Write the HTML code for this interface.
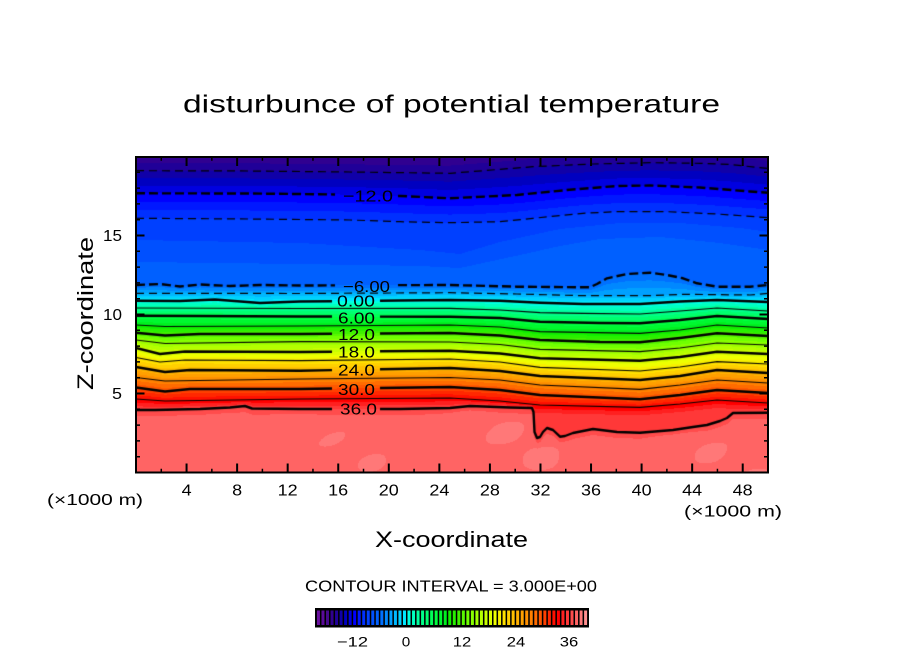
<!DOCTYPE html>
<html><head><meta charset="utf-8">
<style>
html,body{margin:0;padding:0;background:#fff;}
body{width:904px;height:654px;position:relative;overflow:hidden;}
#cv{position:absolute;left:136px;top:157px;}
#ov{position:absolute;left:0;top:0;}
text{font-family:"Liberation Sans",sans-serif;fill:#000;}
</style></head><body>
<canvas id="cv" width="632" height="316"></canvas>
<svg id="ov" width="904" height="654" xmlns="http://www.w3.org/2000/svg">
<g id="ticks"></g>
<rect x="136" y="157" width="632" height="315.5" fill="none" stroke="#000" stroke-width="2"/>
<text x="183" y="112.5" font-size="25" textLength="537" lengthAdjust="spacingAndGlyphs">disturbunce of potential temperature</text>
<text transform="translate(93,390) rotate(-90)" font-size="22" textLength="153" lengthAdjust="spacingAndGlyphs">Z-coordinate</text>
<text x="375" y="547" font-size="22" textLength="153" lengthAdjust="spacingAndGlyphs">X-coordinate</text>
<text x="47" y="505" font-size="16" textLength="96" lengthAdjust="spacingAndGlyphs">(×1000 m)</text>
<text x="684" y="516.5" font-size="16" textLength="98" lengthAdjust="spacingAndGlyphs">(×1000 m)</text>
<g font-size="16" text-anchor="end">
<text x="122" y="241" textLength="19" lengthAdjust="spacingAndGlyphs">15</text>
<text x="122" y="320" textLength="19" lengthAdjust="spacingAndGlyphs">10</text>
<text x="122" y="399" textLength="10" lengthAdjust="spacingAndGlyphs">5</text>
</g>
<g id="xl" font-size="16" text-anchor="middle"></g>
<g font-size="16">
<text x="343" y="201.3" textLength="50" lengthAdjust="spacingAndGlyphs">−12.0</text>
<text x="343" y="291.8" textLength="47" lengthAdjust="spacingAndGlyphs">−6.00</text>
<text x="337" y="306.7" textLength="38" lengthAdjust="spacingAndGlyphs">0.00</text>
<text x="338" y="323.3" textLength="37" lengthAdjust="spacingAndGlyphs">6.00</text>
<text x="338" y="340" textLength="37" lengthAdjust="spacingAndGlyphs">12.0</text>
<text x="338" y="357.7" textLength="37" lengthAdjust="spacingAndGlyphs">18.0</text>
<text x="338" y="375.7" textLength="37" lengthAdjust="spacingAndGlyphs">24.0</text>
<text x="338" y="395" textLength="37" lengthAdjust="spacingAndGlyphs">30.0</text>
<text x="340" y="414.3" textLength="37" lengthAdjust="spacingAndGlyphs">36.0</text>
</g>
<text x="305" y="591.5" font-size="16" textLength="292" lengthAdjust="spacingAndGlyphs">CONTOUR INTERVAL = 3.000E+00</text>
<rect x="315" y="608" width="274" height="19.5" fill="#000"/>
<g id="cb"></g>
<g font-size="14" text-anchor="middle">
<text x="352.5" y="646.5" textLength="31" lengthAdjust="spacingAndGlyphs">−12</text>
<text x="406" y="646.5" textLength="8.5" lengthAdjust="spacingAndGlyphs">0</text>
<text x="462" y="646.5" textLength="18.5" lengthAdjust="spacingAndGlyphs">12</text>
<text x="516" y="646.5" textLength="18.5" lengthAdjust="spacingAndGlyphs">24</text>
<text x="569" y="646.5" textLength="18.5" lengthAdjust="spacingAndGlyphs">36</text>
</g>
</svg>
<script>
(function(){
var CM=['#6a10a0','#5a0a98','#46088c','#300090','#200098','#1000a8','#0000c0','#0000e0','#0000ff','#0018ff','#0030ff','#0040ff','#0050ff','#0060ff','#0070ff','#0088ff','#00a0ff','#00b8ff','#00d0ff','#00e8ff',
'#00ffe0','#00ffc0','#00ffa0','#00ff88','#00ff70','#00ff58','#00ff40','#00f830','#00f020','#10f000',
'#28f000','#40f000','#58f800','#70ff00','#88ff00','#a0ff00','#b4ff00','#c8ff00','#dcff00','#eeff00',
'#f8f000','#ffe000','#ffd000','#ffc000','#ffb000','#ffa000','#ff9000','#ff8000','#ff6c00','#ff5800',
'#ff4000','#ff2800','#ff1000','#ff0000','#ff2020','#ff3838','#ff4c4c','#ff6464','#ff7878','#ff9090'];
function hx(c){return [parseInt(c.substr(1,2),16),parseInt(c.substr(3,2),16),parseInt(c.substr(5,2),16)];}
var RGB=CM.map(hx);
var GA=[332,380], GB=[335,398];
var LV=[
{v:-15,s:'td',p:[[136,170.7],[250,171],[350,172],[450,173.3],[483,170.7],[533,166.7],[593,164],[650,162.7],[700,163.3],[730,164.5],[768,168.5]]},
{v:-12,s:'Td',g:GB,p:[[136,193.3],[250,193.5],[340,194.5],[400,196],[450,198.3],[517,195],[567,190],[617,186],[650,185.5],[700,187.5],[750,191.5],[768,192.7]]},
{v:-9,s:'td',p:[[136,218.3],[250,219],[350,220],[400,221.7],[450,222.7],[500,221.7],[533,218.3],[583,213.3],[617,211.7],[667,211.7],[717,214],[768,217.7]]},
{v:-8,s:'h',p:[[136,240],[300,243],[420,250],[460,254],[500,242],[560,229],[620,223],[680,223],[740,228],[768,232]]},
{v:-7,s:'h',p:[[136,262],[300,264],[420,266],[460,268],[520,255],[560,246],[600,239],[660,237],[720,243],[768,250]]},
{v:-6,s:'Td',g:GB,p:[[136,285],[160,284],[180,286.5],[200,284.5],[230,286],[260,285],[300,285.5],[450,285],[517,286.7],[590,287.3],[597,284],[607,278.3],[627,274],[650,272.7],[667,275],[683,278.3],[697,283.3],[717,286.7],[750,286.7],[768,285]]},
{v:-3,s:'td',p:[[136,293.3],[300,293.5],[450,292.7],[517,294],[583,295.7],[650,295.7],[683,294.3],[750,295],[768,293.3]]},
{v:0,s:'Ts',g:GA,p:[[136,300.7],[180,301],[215,299.5],[260,303],[300,301.5],[400,300.5],[450,300],[500,300.7],[540,302.7],[583,304],[640,304],[680,301.5],[717,300],[768,302]]},
{v:3,s:'ts',p:[[136,308],[300,308.5],[450,308.3],[500,310],[540,312.7],[583,313.3],[640,314],[680,311],[717,308],[768,311]]},
{v:6,s:'Ts',g:GA,p:[[136,315.7],[200,316],[300,316.5],[450,316.7],[500,318],[540,321.7],[600,323],[640,323.3],[680,320],[717,316],[768,319]]},
{v:9,s:'ts',p:[[136,325],[165,326.5],[300,326],[450,325],[500,327],[540,331.7],[640,333.3],[680,330],[717,325],[768,328]]},
{v:12,s:'Ts',g:GA,p:[[136,332.7],[165,335.5],[200,334],[300,334],[450,333],[500,335.5],[540,340],[600,342],[640,342.3],[680,338],[717,333.3],[768,336]]},
{v:15,s:'ts',p:[[136,340],[165,343.5],[300,341.7],[450,342],[500,344.5],[540,349.3],[640,351.7],[680,348],[717,343],[768,345]]},
{v:18,s:'Ts',g:GA,p:[[136,348],[160,354],[185,351.5],[300,352],[450,350.7],[500,353.5],[540,358.3],[640,360.7],[680,357],[717,351.7],[768,354]]},
{v:21,s:'ts',p:[[136,357.5],[160,362],[185,360],[300,360.7],[450,359],[500,362],[540,367.3],[640,371],[680,367],[717,361.7],[768,364]]},
{v:24,s:'Ts',g:GA,p:[[136,367],[165,372],[190,370],[300,370.7],[450,368],[500,371],[540,376],[640,380],[680,376],[717,370],[768,373]]},
{v:27,s:'ts',p:[[136,377.5],[165,381],[300,379],[450,377.5],[500,380],[540,385],[640,389.3],[680,385],[717,380],[768,383]]},
{v:30,s:'Ts',g:GA,p:[[136,387.5],[165,391.5],[190,389],[300,389],[450,387],[500,390],[540,395],[640,399.3],[680,395],[717,390],[768,393]]},
{v:33,s:'ts',p:[[136,399],[165,401],[300,399],[450,398],[500,401],[540,405],[640,407.3],[680,404],[717,400],[768,403]]},
{v:36,s:'Ts',g:GA,p:[[136,410],[155,410],[200,409],[230,407.5],[245,406],[252,408.5],[300,409],[400,409],[450,408],[470,406],[490,406.7],[510,407.5],[532,408],[533.5,412],[534.5,432],[537,438],[540,437],[543,432],[547,428],[553,430],[560,436.7],[565,436],[573,433],[593,429],[617,432],[640,432.7],[673,430],[693,427],[707,425],[720,421],[727,418],[733,413],[768,412.7]]}
];
function ip(p,x){if(x<=p[0][0])return p[0][1];for(var i=1;i<p.length;i++){if(x<=p[i][0]){var a=p[i-1],b=p[i];return a[1]+(b[1]-a[1])*(x-a[0])/(b[0]-a[0]);}}return p[p.length-1][1];}
var X0=136,Y0=157,W=632,H=316;
var cv=document.getElementById('cv');var ctx=cv.getContext('2d');
var img=ctx.createImageData(W,H);var D=img.data;
for(var i=0;i<W;i++){
 var x=X0+i+0.5;var ys=[],vs=[];
 for(var k=0;k<LV.length;k++){
  var yy=ip(LV[k].p,x);
  if(LV[k].v===36){var y33=ys[ys.length-1];var y35=y33+Math.min((yy-y33)*2/3,8);ys.push(y35);vs.push(35);}
  ys.push(yy);vs.push(LV[k].v);
 }
 for(k=1;k<ys.length;k++){if(ys[k]<ys[k-1]+0.01)ys[k]=ys[k-1]+0.01;}
 var n=ys.length;
 for(var j=0;j<H;j++){
  var y=Y0+j+0.5,v;
  if(y<=ys[0]){v=Math.max(-17.9,vs[0]-(ys[0]-y)/7.7);}
  else if(y>=ys[n-1]){
   var d=y-ys[n-1];
   var nz=0.55*Math.sin(x/17+1.3*Math.sin(y/23))*Math.sin(y/11+x/53)+0.45*Math.sin(x/31-y/19+2);
   v=36+Math.min(1.5,d/6)+0.8*Math.max(0,nz)*Math.min(1,d/12);
  } else {
   var kk=0;while(kk<n-2&&y>=ys[kk+1])kk++;
   v=vs[kk]+(vs[kk+1]-vs[kk])*(y-ys[kk])/(ys[kk+1]-ys[kk]);
  }
  var ci=Math.floor(v)+20;if(ci<0)ci=0;if(ci>59)ci=59;
  var c=RGB[ci];var o=(j*W+i)*4;D[o]=c[0];D[o+1]=c[1];D[o+2]=c[2];D[o+3]=255;
 }
}
ctx.putImageData(img,0,0);
ctx.strokeStyle='#000';ctx.lineJoin='round';
function seg(pts){if(pts.length<2)return;ctx.beginPath();ctx.moveTo(pts[0][0]-X0,pts[0][1]-Y0);for(var q=1;q<pts.length;q++)ctx.lineTo(pts[q][0]-X0,pts[q][1]-Y0);ctx.stroke();}
LV.forEach(function(L){
 if(L.s==='h')return;
 var thick=L.s[0]==='T',dash=L.s[1]==='d';
 ctx.lineWidth=thick?2.4:1.2;
 ctx.setLineDash(dash?(thick?[9,4]:[8,5]):[]);
 ctx.lineCap='butt';
 if(L.g){
  var a=[],b=[],g0=L.g[0],g1=L.g[1];
  L.p.forEach(function(pt){if(pt[0]<g0)a.push(pt);else if(pt[0]>g1)b.push(pt);});
  a.push([g0,ip(L.p,g0)]);b.unshift([g1,ip(L.p,g1)]);
  seg(a);seg(b);
 } else seg(L.p);
});
ctx.setLineDash([]);
var NS='http://www.w3.org/2000/svg';
var tk='',tk2='';
for(var q=1;q<=24;q++){
 var xx=136+25.28*q;var maj=(q%2===0);var len=maj?9:3.7;
 var str='M'+xx.toFixed(2)+' 472.5V'+(472.5-len).toFixed(2)+'M'+xx.toFixed(2)+' 157V'+(157+len).toFixed(2);
 if(maj)tk+=str;else tk2+=str;
}
for(q=1;q<=19;q++){
 var yy2=472.5-15.8*q;var mj=(q%5===0);var ln=mj?8.5:4;
 var s2='M136 '+yy2.toFixed(2)+'H'+(136+ln)+'M768 '+yy2.toFixed(2)+'H'+(768-ln);
 if(mj)tk+=s2;else tk2+=s2;
}
var g=document.getElementById('ticks');
var p1=document.createElementNS(NS,'path');p1.setAttribute('d',tk);p1.setAttribute('stroke','#000');p1.setAttribute('stroke-width','2');p1.setAttribute('fill','none');g.appendChild(p1);
var p2=document.createElementNS(NS,'path');p2.setAttribute('d',tk2);p2.setAttribute('stroke','#000');p2.setAttribute('stroke-width','1.5');p2.setAttribute('fill','none');g.appendChild(p2);
var xl=document.getElementById('xl');
for(q=4;q<=48;q+=4){
 var t=document.createElementNS(NS,'text');t.setAttribute('x',(136+12.64*q).toFixed(1));t.setAttribute('y','495.5');
 t.setAttribute('textLength',q<10?'10':'20');t.setAttribute('lengthAdjust','spacingAndGlyphs');t.textContent=String(q);xl.appendChild(t);
}
var cb=document.getElementById('cb');
for(var v=-20;v<=39;v++){
 var x0=406+v*4.528+1.5;
 var r=document.createElementNS(NS,'rect');r.setAttribute('x',x0.toFixed(2));r.setAttribute('y','610.5');r.setAttribute('width','3');r.setAttribute('height','14.5');r.setAttribute('fill',CM[v+20]);cb.appendChild(r);
}
})();
</script>
</body></html>
